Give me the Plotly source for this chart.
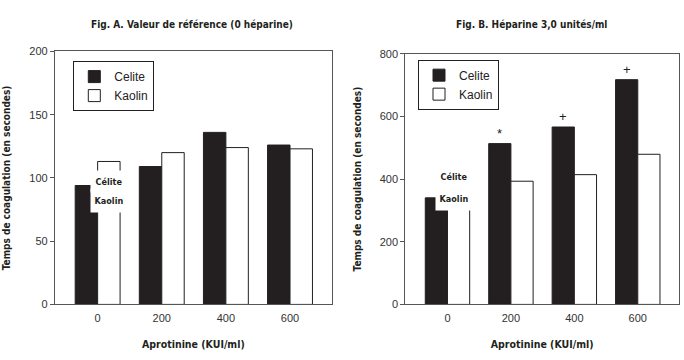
import plotly.graph_objects as go

# ---- data ----
doses = [0, 200, 400, 600]
tick_labels = ["0", "200", "400", "600"]
celite_A = [94, 109, 136, 126]
kaolin_A = [113, 120, 124, 123]
celite_B = [340, 513, 566, 717]
kaolin_B = [360, 393, 414, 479]
sig_B = ["", "*", "+", "+"]

title_A = "Fig. A. Valeur de référence (0 héparine)"
title_B = "Fig. B. Héparine 3,0 unités/ml"
ytitle = "Temps de coagulation (en secondes)"
xtitle = "Aprotinine (KUI/ml)"

DARK = "#231f20"
AX = "#555555"
COND = "Liberation Sans Narrow, DejaVu Sans Condensed, Liberation Sans, Arial"
SANS = "Liberation Sans, Arial, Helvetica"

fig = go.Figure()
for xa, ya, leg, cel, kao in [("x", "y", "legend", celite_A, kaolin_A),
                               ("x2", "y2", "legend2", celite_B, kaolin_B)]:
    fig.add_bar(x=doses, y=cel, name="Celite", xaxis=xa, yaxis=ya, legend=leg,
                marker=dict(color=DARK, line=dict(color=DARK, width=1)))
    fig.add_bar(x=doses, y=kao, name="Kaolin", xaxis=xa, yaxis=ya, legend=leg,
                marker=dict(color="white", line=dict(color=DARK, width=1)))

axis_common = dict(showline=True, linecolor=AX, linewidth=1.2, mirror=True,
                   showgrid=False, zeroline=False,
                   tickfont=dict(family=SANS, size=11, color="#333333"))
xcommon = dict(axis_common, range=[-133, 730], tickvals=doses, ticktext=tick_labels,
               ticks="", ticklabelstandoff=3,
               title=dict(text="<b>" + xtitle + "</b>",
                          font=dict(family=COND, size=10.5, color=DARK), standoff=17))
ytitle_d = dict(text="<b>" + ytitle + "</b>", font=dict(family=COND, size=10, color=DARK), standoff=16)
fig.update_layout(
    width=684, height=360, margin=dict(l=0, r=0, t=0, b=0),
    paper_bgcolor="white", plot_bgcolor="white",
    barmode="group", bargap=0.3, bargroupgap=0,
    xaxis=dict(xcommon, domain=[55 / 684, 331.7 / 684], anchor="y"),
    xaxis2=dict(xcommon, domain=[405.3 / 684, 679 / 684], anchor="y2"),
    yaxis=dict(axis_common, domain=[1 - 308.7 / 360, 1 - 47 / 360], range=[0, 200],
               tickvals=[0, 50, 100, 150, 200], ticks="outside", ticklen=4, tickcolor=AX,
               anchor="x", title=ytitle_d),
    yaxis2=dict(axis_common, domain=[1 - 308.7 / 360, 1 - 49.3 / 360], range=[0, 800],
                tickvals=[0, 200, 400, 600, 800], ticks="outside", ticklen=4, tickcolor=AX,
                anchor="x2", title=ytitle_d),
    legend=dict(x=73.3 / 684, y=1 - 57 / 360, xanchor="left", yanchor="top",
                bgcolor="white", bordercolor=DARK, borderwidth=1,
                font=dict(family=SANS, size=12, color="#222222")),
    legend2=dict(x=418 / 684, y=1 - 55.5 / 360, xanchor="left", yanchor="top",
                 bgcolor="white", bordercolor=DARK, borderwidth=1,
                 font=dict(family=SANS, size=12, color="#222222")),
    showlegend=True,
)

ann = []
# panel titles
for t, xc in [(title_A, 192), (title_B, 531)]:
    ann.append(dict(text="<b>" + t + "</b>", xref="paper", yref="paper",
                    x=xc / 684, y=1 - 19 / 360, xanchor="center", yanchor="middle",
                    showarrow=False, font=dict(family=COND, size=10, color=DARK)))
# significance marks above Celite bars
for d, v, s in zip(doses, celite_B, sig_B):
    if s:
        ann.append(dict(text=s, x=d - 35, y=v, xref="x2", yref="y2", showarrow=False,
                        xanchor="center", yanchor="bottom", yshift=1,
                        font=dict(family=SANS, size=13, color=DARK)))
# inline labels at dose 0 (white boxes)
for xr, yr, xc, yc, yk in [("x", "y", 35, 97.5, 82), ("x2", "y2", 20, 408, 338)]:
    ann.append(dict(text="<b>Célite</b>", x=xc, y=yc, xref=xr, yref=yr, showarrow=False,
                    bgcolor="white", width=34, height=19,
                    font=dict(family=COND, size=9, color=DARK)))
    ann.append(dict(text="<b>Kaolin</b>", x=xc, y=yk, xref=xr, yref=yr, showarrow=False,
                    bgcolor="white", width=34, height=21,
                    font=dict(family=COND, size=9, color=DARK)))
fig.update_layout(annotations=ann)

fig.write_html("out.html")
